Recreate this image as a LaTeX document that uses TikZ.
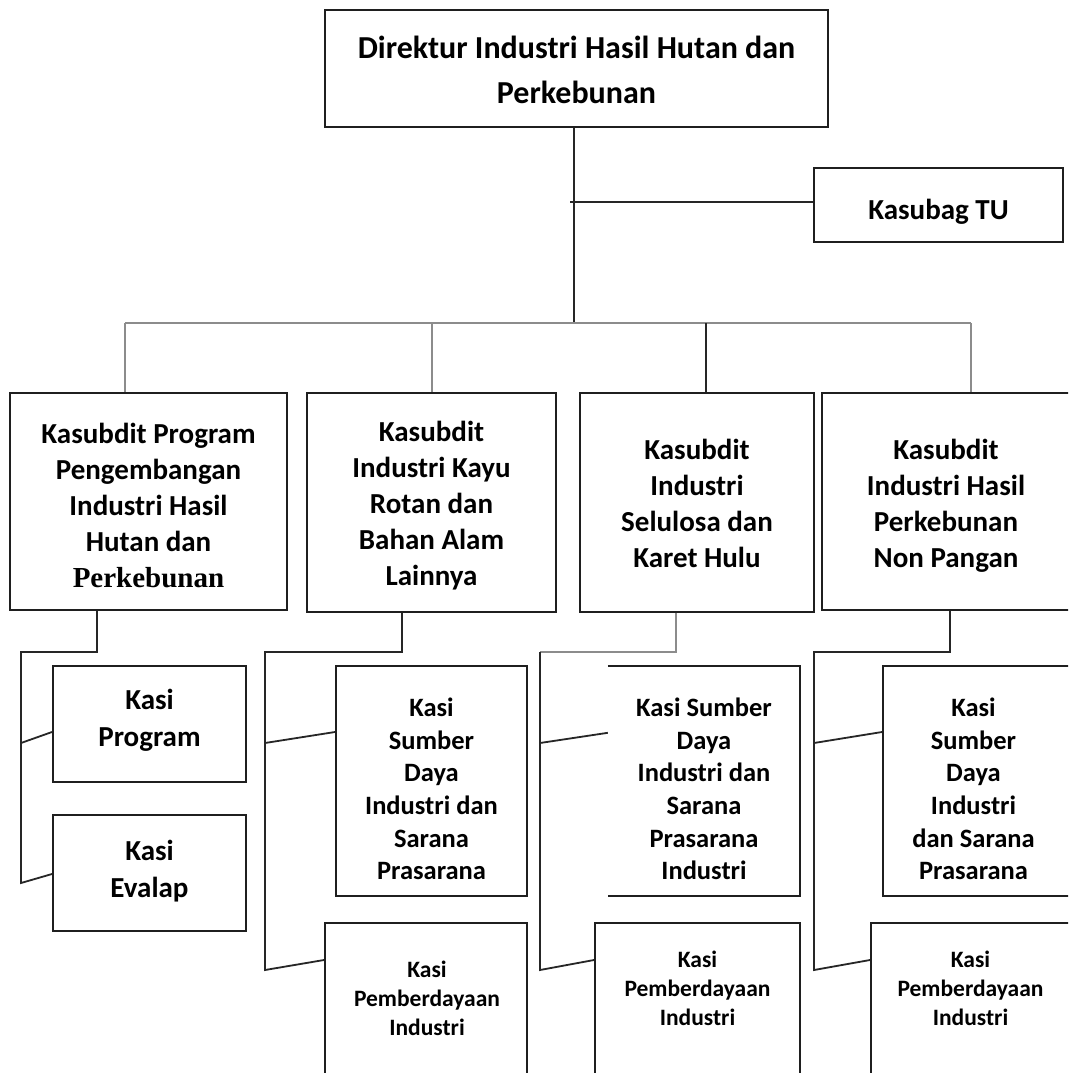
\documentclass[tikz,border=0pt]{standalone}
\usepackage{fontspec}
\setmainfont{Carlito}
\newfontfamily\tnrfont{Liberation Serif}
\usetikzlibrary{calc}
\newcommand\fszA{\fontsize{32}{45}\selectfont}
\newcommand\fszB{\fontsize{29}{36}\selectfont}
\newcommand\fszP{\fontsize{29}{37}\selectfont}
\newcommand\fszC{\fontsize{26.5}{32.7}\selectfont}
\newcommand\fszD{\fontsize{23.5}{29}\selectfont}
\begin{document}
\begin{tikzpicture}[x=1pt,y=-1pt,
  box/.style={draw=black!88, line width=2pt, fill=white, inner sep=0pt},
  nobox/.style={draw=none, fill=white, inner sep=0pt},
  txt/.style={align=center, inner sep=0pt, font=\bfseries},
  edge3/.style={draw=black!88, line width=2pt},
  dk/.style={draw=black!85, line width=1.8pt},
  gr/.style={draw=black!45, line width=1.8pt}]
\useasboundingbox (0,0) rectangle (1068,1073);
\clip (0,0) rectangle (1068,1073);
\fill[white] (0,0) rectangle (1068,1073);

% top level
\node[box, minimum width=503, minimum height=117] (dir) at (576.5,68.5) {};
\node[txt, font=\bfseries\fszA] (dirt) at ($(dir.center)+(0,1.5)$) {Direktur Industri Hasil Hutan dan\\Perkebunan};
\node[box, minimum width=249, minimum height=74] (kt) at (938.5,205) {};
\node[txt, font=\bfseries\fszB] (ktt) at ($(kt.center)+(0,7)$) {Kasubag TU};

% kasubdit
\node[box, minimum width=277, minimum height=217] (k1) at (148.5,501.5) {};
\node[txt, font=\bfseries\fszB] (k1t) at ($(k1.center)+(0,4)$)
  {Kasubdit Program\\Pengembangan\\Industri Hasil\\Hutan dan\\{\tnrfont Perkebunan}};
\node[box, minimum width=249, minimum height=219] (k2) at (431.5,502.5) {};
\node[txt, font=\bfseries\fszB] (k2t) at ($(k2.center)+(0,3)$)
  {Kasubdit\\Industri Kayu\\Rotan dan\\Bahan Alam\\Lainnya};
\node[box, minimum width=234, minimum height=219] (k3) at (697,502.5) {};
\node[txt, font=\bfseries\fszB] (k3t) at ($(k3.center)+(0,0.5)$)
  {Kasubdit\\Industri\\Selulosa dan\\Karet Hulu};
\node[box, minimum width=248, minimum height=217] (k4) at (946,501.5) {};
\node[txt, font=\bfseries\fszB] (k4t) at ($(k4.center)+(0,4)$)
  {Kasubdit\\Industri Hasil\\Perkebunan\\Non Pangan};

% kasi column 1
\node[box, minimum width=193, minimum height=116] (a1) at (149.5,724) {};
\node[txt, font=\bfseries\fszP] (a1t) at ($(a1.center)+(0,-4)$) {Kasi\\Program};
\node[box, minimum width=193, minimum height=116] (b1) at (149.5,873) {};
\node[txt, font=\bfseries\fszP] (b1t) at ($(b1.center)+(0,-2)$) {Kasi\\Evalap};

% kasi sumber daya
\node[box, minimum width=191, minimum height=230] (a2) at (431.5,781) {};
\node[txt, font=\bfseries\fszC] (a2t) at ($(a2.center)+(0,8)$)
  {Kasi\\Sumber\\Daya\\Industri dan\\Sarana\\Prasarana};
\node[nobox, minimum width=192, minimum height=230] (a3) at (704,781) {};
\draw[edge3] (a3.north west) -- (a3.north east) -- (a3.south east) -- (a3.south west);
\node[txt, font=\bfseries\fszC] (a3t) at ($(a3.center)+(0,8)$)
  {Kasi Sumber\\Daya\\Industri dan\\Sarana\\Prasarana\\Industri};
\node[box, minimum width=187, minimum height=230] (a4) at (976.5,781) {};
\node[txt, font=\bfseries\fszC] (a4t) at ($(a4.center)+(-3,8)$)
  {Kasi\\Sumber\\Daya\\Industri\\dan Sarana\\Prasarana};

% kasi pemberdayaan (open at the bottom)
\node[box, minimum width=202, minimum height=200] (b2) at (426,1023) {};
\node[box, minimum width=205, minimum height=200] (b3) at (697.5,1023) {};
\node[box, minimum width=199, minimum height=200] (b4) at (970.5,1023) {};
\node[txt, font=\bfseries\fszD] (b2t) at (427,998) {Kasi\\Pemberdayaan\\Industri};
\node[txt, font=\bfseries\fszD] (b3t) at (697.5,988) {Kasi\\Pemberdayaan\\Industri};
\node[txt, font=\bfseries\fszD] (b4t) at (970.5,988) {Kasi\\Pemberdayaan\\Industri};

% upper connectors
\coordinate (bL) at (125,323);
\coordinate (bR) at (971,323);
\coordinate (bus2) at (432,323);
\coordinate (bus3) at (706,323);
\coordinate (kj) at (570,202);
\draw[dk] (dir.south -| 574,0) -- (574,323);
\draw[dk] (kj) -- (kj -| kt.west);
\draw[gr] (bL) -- (bR);
\draw[gr] (bL) -- (bL |- k1.north);
\draw[gr] (bus2) -- (bus2 |- k2.north);
\draw[dk] (bus3) -- (bus3 |- k3.north);
\draw[gr] (bR) -- (bR |- k4.north);

% lower connectors, column 1
\coordinate (j1) at (97,652);
\coordinate (t1) at (21,652);
\draw[dk] (k1.south -| j1) -- (j1) -- (t1) -- (21,883) -- ($(b1.north west)+(0,60)$);
\draw[dk] (21,743) -- ($(a1.north west)+(0,67)$);

% column 2
\coordinate (j2) at (402,652);
\coordinate (t2) at (265,652);
\draw[dk] (k2.south -| j2) -- (j2) -- (t2) -- (265,970) -- ($(b2.north west)+(0,38)$);
\draw[dk] (265,743) -- ($(a2.north west)+(0,67)$);

% column 3
\coordinate (j3) at (676,652);
\coordinate (t3) at (540,652);
\draw[gr] (k3.south -| j3) -- (j3) -- (t3);
\draw[dk] (t3) -- (540,970) -- ($(b3.north west)+(0,38)$);
\draw[dk] (540,743) -- ($(a3.north west)+(0,67)$);

% column 4
\coordinate (j4) at (950,652);
\coordinate (t4) at (814,652);
\draw[dk] (k4.south -| j4) -- (j4) -- (t4) -- (814,970) -- ($(b4.north west)+(0,38)$);
\draw[dk] (814,743) -- ($(a4.north west)+(0,67)$);
\end{tikzpicture}
\end{document}
